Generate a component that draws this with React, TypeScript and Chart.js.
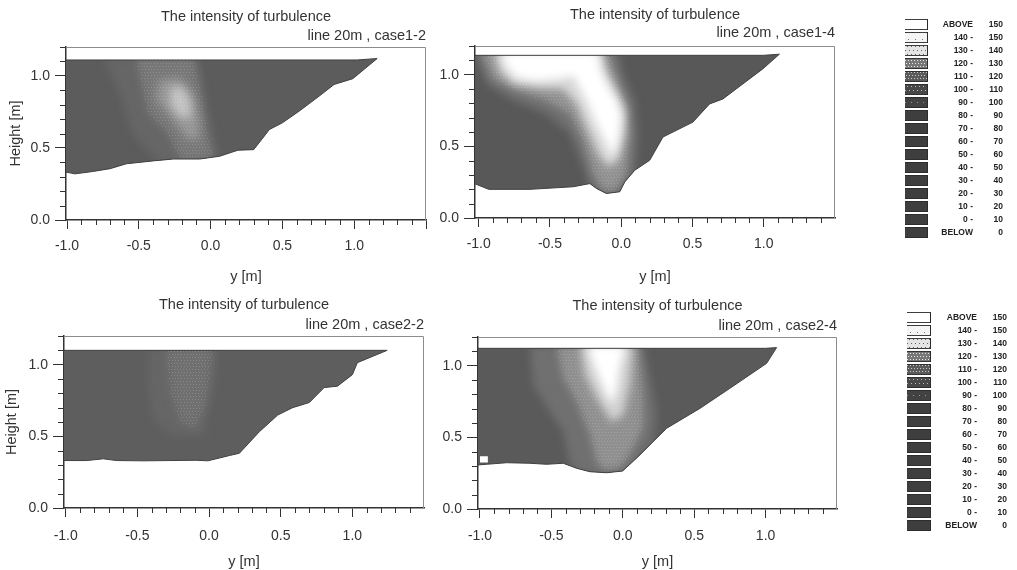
import React, { useEffect, useRef } from "react";
import { Chart, registerables } from "chart.js";

Chart.register(...registerables);

const FONT = "'Liberation Sans', Arial, sans-serif";
const INK = "#333333";

const titleText = "The intensity of turbulence";
const xAxisTitle = "y [m]";
const yAxisTitle = "Height [m]";
const xMajorTicks = [-1, -0.5, 0, 0.5, 1];
const xMinorTicks = [-0.9, -0.8, -0.7, -0.6, -0.4, -0.3, -0.2, -0.1, 0.1, 0.2, 0.3, 0.4, 0.6, 0.7, 0.8, 0.9, 1.1, 1.2, 1.3, 1.4];
const yMinorTicks = [0.1, 0.2, 0.3, 0.4, 0.6, 0.7, 0.8, 0.9, 1.1, 1.2];

// case 1-2
const bed12 = [[-1.02, 1.11], [1.02, 1.11], [1.16, 1.12], [0.99, 0.98], [0.86, 0.94], [0.757, 0.86], [0.618, 0.756], [0.5, 0.674], [0.41, 0.628], [0.3, 0.488], [0.19, 0.484], [0.0625, 0.442], [-0.076, 0.423], [-0.26, 0.423], [-0.4, 0.41], [-0.586, 0.39], [-0.7, 0.356], [-0.817, 0.337], [-0.944, 0.32], [-1.02, 0.335]];
const c12a = [[-0.75, 1.13], [-0.08, 1.13], [-0.03, 0.8], [0.06, 0.42], [-0.35, 0.39], [-0.55, 0.6], [-0.62, 0.85]];
const c12b = [[-0.52, 1.13], [-0.12, 1.13], [-0.06, 0.85], [-0.02, 0.6], [0.02, 0.43], [-0.2, 0.41], [-0.3, 0.6], [-0.44, 0.75]];
const c12c = [[-0.36, 0.97], [-0.22, 0.99], [-0.12, 0.88], [-0.08, 0.7], [-0.08, 0.55], [-0.17, 0.57], [-0.28, 0.72], [-0.38, 0.83]];
const c12d = [[-0.28, 0.91], [-0.2, 0.93], [-0.14, 0.82], [-0.14, 0.7], [-0.22, 0.72], [-0.28, 0.8]];

// case 1-4
const bed14 = [[-1.03, 1.135], [1.0, 1.135], [1.11, 1.143], [0.993, 1.04], [0.713, 0.83], [0.62, 0.796], [0.503, 0.669], [0.293, 0.565], [0.2, 0.403], [0.095, 0.333], [0.025, 0.252], [-0.01, 0.183], [-0.104, 0.171], [-0.174, 0.206], [-0.22, 0.24], [-0.337, 0.218], [-0.64, 0.2], [-0.93, 0.2], [-1.03, 0.24]];
const c14a = [[-1.03, 1.16], [-0.944, 0.935], [-0.757, 0.819], [-0.524, 0.727], [-0.36, 0.588], [-0.267, 0.356], [-0.22, 0.22], [-0.174, 0.18], [-0.104, 0.14], [-0.01, 0.16], [0.025, 0.23], [0.095, 0.31], [0.118, 0.588], [0.095, 0.819], [0.013, 1.005], [-0.022, 1.16]];
const c14b = [[-0.99, 1.16], [-0.897, 0.97], [-0.734, 0.889], [-0.524, 0.819], [-0.36, 0.727], [-0.267, 0.542], [-0.197, 0.31], [-0.127, 0.194], [-0.034, 0.194], [0.036, 0.31], [0.06, 0.588], [0.048, 0.773], [-0.034, 0.981], [-0.092, 1.16]];
const c14c = [[-0.897, 1.16], [-0.85, 1.016], [-0.757, 0.935], [-0.57, 0.907], [-0.407, 0.9], [-0.314, 0.796], [-0.244, 0.634], [-0.162, 0.449], [-0.092, 0.356], [-0.022, 0.403], [0.025, 0.588], [0.025, 0.75], [-0.034, 0.889], [-0.104, 1.028], [-0.139, 1.16]];
const c14d = [[-0.84, 1.16], [-0.809, 1.062], [-0.734, 0.981], [-0.594, 0.958], [-0.454, 0.97], [-0.337, 0.993], [-0.244, 0.819], [-0.174, 0.657], [-0.104, 0.519], [-0.057, 0.426], [-0.022, 0.542], [0.001, 0.704], [-0.034, 0.819], [-0.104, 0.935], [-0.151, 1.05], [-0.16, 1.16]];

// case 2-2
const bed22 = [[-1.02, 1.1], [1.1, 1.1], [1.243, 1.1], [1.035, 1.014], [1.0, 0.93], [0.896, 0.85], [0.803, 0.84], [0.7, 0.736], [0.583, 0.7], [0.479, 0.648], [0.351, 0.532], [0.212, 0.382], [0.143, 0.366], [-0.008, 0.329], [-0.09, 0.333], [-0.46, 0.329], [-0.645, 0.331], [-0.738, 0.343], [-0.854, 0.331], [-1.02, 0.331]];
const c22a = [[-0.42, 1.12], [0.05, 1.12], [0.05, 0.9], [0, 0.7], [-0.03, 0.5], [-0.25, 0.5], [-0.38, 0.6], [-0.42, 0.8]];
const c22b = [[-0.3, 1.12], [0.03, 1.12], [0, 0.9], [-0.03, 0.7], [-0.1, 0.55], [-0.2, 0.6], [-0.27, 0.8]];

// case 2-4
const bed24 = [[-1.02, 1.121], [1.0, 1.121], [1.077, 1.126], [1.007, 1.016], [0.75, 0.842], [0.54, 0.702], [0.307, 0.563], [0.213, 0.47], [0.12, 0.377], [-0.001, 0.265], [-0.113, 0.253], [-0.23, 0.26], [-0.323, 0.284], [-0.417, 0.319], [-0.533, 0.312], [-0.65, 0.319], [-0.813, 0.323], [-0.953, 0.312], [-1.02, 0.307]];
const c24a = [[-0.65, 1.14], [-0.627, 0.865], [-0.51, 0.679], [-0.417, 0.54], [-0.37, 0.31], [-0.323, 0.26], [-0.23, 0.23], [-0.113, 0.23], [-0.001, 0.24], [0.12, 0.35], [0.213, 0.45], [0.237, 0.679], [0.19, 0.912], [0.143, 1.14]];
const c24b = [[-0.463, 1.14], [-0.417, 0.912], [-0.323, 0.749], [-0.23, 0.516], [-0.183, 0.33], [-0.137, 0.272], [-0.02, 0.284], [0.05, 0.377], [0.143, 0.563], [0.143, 0.795], [0.108, 1.14]];
const c24c = [[-0.3, 1.14], [-0.265, 0.935], [-0.183, 0.772], [-0.078, 0.609], [0.003, 0.656], [0.05, 0.865], [0.073, 1.14]];
const c24d = [[-0.25, 1.14], [-0.195, 0.981], [-0.137, 0.842], [-0.078, 0.726], [-0.043, 0.819], [-0.02, 0.981], [0.02, 1.14]];
const gap24 = [[-1.0, 0.325], [-0.945, 0.325], [-0.945, 0.368], [-1.0, 0.368], [-1.0, 0.325]];

// legend
const legendLowLabels = ["ABOVE", "140 -", "130 -", "120 -", "110 -", "100 -", "90 -", "80 -", "70 -", "60 -", "50 -", "40 -", "30 -", "20 -", "10 -", "0 -", "BELOW"];
const legendHighLabels = ["150", "150", "140", "130", "120", "110", "100", "90", "80", "70", "60", "50", "40", "30", "20", "10", "0"];
const legendValues = [1, 1, 1, 1, 1, 1, 1, 1, 1, 1, 1, 1, 1, 1, 1, 1, 1];
const legendGreys = ["#ffffff", "#f4f4f4", "#e4e4e4", "#777777", "#5a5a5a", "#484848", "#424242", "#3e3e3e", "#3e3e3e", "#3e3e3e", "#3e3e3e", "#3e3e3e", "#3e3e3e", "#3e3e3e", "#3e3e3e", "#3e3e3e", "#3e3e3e"];
const legendDots = ["", "#777777", "#666666", "#e8e8e8", "#c8c8c8", "#bbbbbb", "#999999", "", "", "", "", "", "", "", "", "", ""];
const legendDotSpacing = [0, 7, 4, 3, 3, 4, 6, 0, 0, 0, 0, 0, 0, 0, 0, 0, 0];

const pts = (a: number[][]) => a.map(([x, y]) => ({ x, y }));

function dotPattern(base: string, dot: string, spacing: number) {
  const tile = document.createElement("canvas");
  tile.width = spacing;
  tile.height = spacing * 2;
  const g = tile.getContext("2d")!;
  if (base) {
    g.fillStyle = base;
    g.fillRect(0, 0, spacing, spacing * 2);
  }
  g.fillStyle = dot;
  g.fillRect(0, 0, 1, 1);
  g.fillRect(Math.floor(spacing / 2), spacing, 1, 1);
  return g.createPattern(tile, "repeat")!;
}

const BLUR = "blur(4px)";

const softPlugin = {
  id: "soften",
  beforeDatasetDraw(chart: any, args: any) {
    const { ctx } = chart;
    const sets = chart.data.datasets;
    if (args.index === 0) {
      const sx = chart.scales.x;
      const sy = chart.scales.y;
      ctx.save();
      ctx.beginPath();
      sets[0].data.forEach((p: any, i: number) => {
        const px = sx.getPixelForValue(p.x);
        const py = sy.getPixelForValue(p.y);
        if (i === 0) ctx.moveTo(px, py);
        else ctx.lineTo(px, py);
      });
      ctx.closePath();
      ctx.clip();
    }
    const cur = sets[args.index];
    const next = sets[args.index + 1];
    if (cur.role !== "sharp") {
      if (next && next.role === "sharp") ctx.restore();
      else if (next) ctx.filter = next.role === "grain" ? "none" : BLUR;
    }
  },
};

const framePlugin = {
  id: "frame",
  afterDraw(chart: any) {
    const { ctx, chartArea: a } = chart;
    const sx = chart.scales.x;
    const sy = chart.scales.y;
    ctx.save();
    ctx.strokeStyle = "#8c8c8c";
    ctx.lineWidth = 1;
    ctx.beginPath();
    ctx.moveTo(a.left, a.top + 0.5);
    ctx.lineTo(a.right - 0.5, a.top + 0.5);
    ctx.lineTo(a.right - 0.5, a.bottom);
    ctx.stroke();
    ctx.strokeStyle = INK;
    ctx.beginPath();
    xMinorTicks.forEach((v) => {
      const p = Math.round(sx.getPixelForValue(v)) + 0.5;
      ctx.moveTo(p, a.bottom);
      ctx.lineTo(p, a.bottom + 5);
    });
    yMinorTicks.forEach((v) => {
      const p = Math.round(sy.getPixelForValue(v)) + 0.5;
      ctx.moveTo(a.left, p);
      ctx.lineTo(a.left - 6, p);
    });
    ctx.stroke();
    ctx.restore();
  },
};

type Panel = {
  left: number; top: number; width: number; height: number;
  axisLeft: number; padRight: number; xAxisHeight: number; xMin: number;
  titleTop: number; subGap: number; subBottom: number;
  tickPad: number; xTitlePad: number; yTitlePad: number | null;
  subtitle: string; edgeTick: boolean;
  bed: number[][]; layers: [number[][], string][]; base: string; grain: number[][]; hole?: number[][];
};

const panels: Panel[] = [
  { left: 0, top: 0, width: 440, height: 285, axisLeft: 66, padRight: 14, xAxisHeight: 65, xMin: -1.007, titleTop: 9, subGap: 3, subBottom: 3, tickPad: 9, xTitlePad: 4, yTitlePad: 8, subtitle: "line 20m , case1-2", edgeTick: true, bed: bed12, base: "#5c5c5c", grain: c12b, layers: [[c12a, "#666666"], [c12b, "#787878"], [c12c, "#969696"], [c12d, "#c4c4c4"]] },
  { left: 430, top: 0, width: 420, height: 285, axisLeft: 45, padRight: 15, xAxisHeight: 67, xMin: -1.026, titleTop: 7, subGap: 2, subBottom: 5, tickPad: 9, xTitlePad: 7, yTitlePad: null, subtitle: "line 20m , case1-4", edgeTick: false, bed: bed14, base: "#585858", grain: c14b, layers: [[c14a, "#707070"], [c14b, "#929292"], [c14c, "#d8d8d8"], [c14d, "#ffffff"]] },
  { left: 0, top: 285, width: 440, height: 285, axisLeft: 64, padRight: 16, xAxisHeight: 62, xMin: -1.012, titleTop: 12, subGap: 4, subBottom: 3, tickPad: 11, xTitlePad: 1, yTitlePad: 4, subtitle: "line 20m , case2-2", edgeTick: false, bed: bed22, base: "#5e5e5e", grain: c22b, layers: [[c22a, "#666666"], [c22b, "#707070"]] },
  { left: 430, top: 285, width: 420, height: 285, axisLeft: 48, padRight: 13, xAxisHeight: 61, xMin: -1.014, titleTop: 13, subGap: 4, subBottom: 3, tickPad: 10, xTitlePad: 0, yTitlePad: null, subtitle: "line 20m , case2-4", edgeTick: false, bed: bed24, base: "#5a5a5a", hole: gap24, grain: c24b, layers: [[c24a, "#707070"], [c24b, "#909090"], [c24c, "#d0d0d0"], [c24d, "#ffffff"]] },
];

type LegendSpec = { left: number; top: number; swatch: number; lowWidth: number; highWidth: number };
const legends: LegendSpec[] = [
  { left: 905, top: 18, swatch: 23, lowWidth: 45, highWidth: 30 },
  { left: 907, top: 311, swatch: 24, lowWidth: 46, highWidth: 30 },
];

function makePanel(canvas: HTMLCanvasElement, p: Panel) {
  const layerSets = p.layers.map(([poly, color]) => ({
    role: "soft",
    data: pts(poly),
    backgroundColor: color,
    borderWidth: 0,
    pointRadius: 0,
    fill: "shape",
  }));
  const grainSet = {
    role: "grain",
    data: pts(p.grain),
    backgroundColor: dotPattern("", "rgba(255,255,255,0.16)", 3),
    borderWidth: 0,
    pointRadius: 0,
    fill: "shape",
  };
  const sharp: any[] = [];
  if (p.hole) {
    sharp.push({ role: "sharp", data: pts(p.hole), backgroundColor: "#ffffff", borderWidth: 0, pointRadius: 0, fill: "shape" });
  }
  sharp.push({
    role: "sharp",
    data: pts([...p.bed, p.bed[0]]),
    borderColor: "#404040",
    borderWidth: 1,
    pointRadius: 0,
    fill: false,
  });
  const all: any[] = [
    { role: "base", data: pts(p.bed), backgroundColor: p.base, borderWidth: 0, pointRadius: 0, fill: "shape" },
    ...layerSets,
    grainSet,
    ...sharp,
  ].map((d, i) => ({ ...d, order: -i }));
  const tickVals = p.edgeTick ? [...xMajorTicks, 1.5] : xMajorTicks;
  return new Chart(canvas, {
    type: "line",
    data: { datasets: all },
    plugins: [softPlugin, framePlugin],
    options: {
      animation: false,
      responsive: false,
      layout: { autoPadding: false, padding: { right: p.padRight, left: 0, top: 0, bottom: 0 } },
      plugins: {
        legend: { display: false },
        tooltip: { enabled: false },
        title: {
          display: true,
          text: titleText,
          fullSize: false,
          color: INK,
          font: { family: FONT, size: 14.5, weight: "normal", lineHeight: "16px" },
          padding: { top: p.titleTop, bottom: 0 },
        },
        subtitle: {
          display: true,
          text: p.subtitle,
          align: "end",
          fullSize: false,
          color: INK,
          font: { family: FONT, size: 14.5, weight: "normal", lineHeight: "16px" },
          padding: { top: p.subGap, bottom: p.subBottom },
        },
      },
      scales: {
        x: {
          type: "linear",
          min: p.xMin,
          max: 1.5,
          afterBuildTicks: (s: any) => { s.ticks = tickVals.map((value) => ({ value })); },
          afterFit: (s: any) => { s.height = p.xAxisHeight; },
          ticks: {
            autoSkip: false,
            maxRotation: 0,
            padding: p.tickPad,
            color: INK,
            font: { family: FONT, size: 14 },
            callback: (v: any) => (v > 1.2 ? "" : Number(v).toFixed(1)),
          },
          grid: { drawOnChartArea: false, tickLength: 9, tickColor: INK, tickWidth: 1 },
          border: { color: INK, width: 1.5 },
          title: {
            display: true,
            text: xAxisTitle,
            color: INK,
            font: { family: FONT, size: 14.5, lineHeight: "16px" },
            padding: { top: p.xTitlePad, bottom: 0 },
          },
        },
        y: {
          type: "linear",
          min: 0,
          max: 1.2,
          afterBuildTicks: (s: any) => { s.ticks = [0, 0.5, 1].map((value) => ({ value })); },
          afterFit: (s: any) => { s.width = p.axisLeft; },
          ticks: {
            padding: 5,
            color: INK,
            font: { family: FONT, size: 14 },
            callback: (v: any) => Number(v).toFixed(1),
          },
          grid: { drawOnChartArea: false, tickLength: 11, tickColor: INK, tickWidth: 1 },
          border: { color: INK, width: 1.5 },
          title: {
            display: p.yTitlePad !== null,
            text: yAxisTitle,
            color: INK,
            font: { family: FONT, size: 14.5, lineHeight: "16px" },
            padding: { top: p.yTitlePad ?? 0, bottom: 0 },
          },
        },
      },
    } as any,
  });
}

function makeLegend(canvas: HTMLCanvasElement, l: LegendSpec) {
  const font = { family: FONT, size: 8.5, weight: "bold" };
  const fills = legendGreys.map((g, i) => (legendDots[i] ? dotPattern(g, legendDots[i], legendDotSpacing[i]) : g));
  return new Chart(canvas, {
    type: "bar",
    data: {
      labels: legendLowLabels,
      datasets: [{
        data: legendValues,
        backgroundColor: fills,
        borderColor: "#2c2c2c",
        borderWidth: 1,
        barPercentage: 1,
        categoryPercentage: 0.86,
      }],
    },
    options: {
      animation: false,
      responsive: false,
      indexAxis: "y",
      layout: { autoPadding: false, padding: { right: 1017 - l.left - l.swatch - l.lowWidth - l.highWidth } },
      plugins: { legend: { display: false }, tooltip: { enabled: false } },
      scales: {
        x: { display: false, min: 0, max: 1 },
        y: {
          position: "right",
          afterFit: (s: any) => { s.width = l.lowWidth; s.paddingTop = 0; s.paddingBottom = 0; },
          grid: { display: false },
          border: { display: false },
          ticks: { autoSkip: false, crossAlign: "far", padding: 0, color: "#222", font },
        },
        y2: {
          type: "category",
          position: "right",
          labels: legendHighLabels,
          afterFit: (s: any) => { s.width = l.highWidth; s.paddingTop = 0; s.paddingBottom = 0; },
          grid: { display: false },
          border: { display: false },
          ticks: { autoSkip: false, crossAlign: "far", padding: 0, color: "#222", font },
        },
      },
    } as any,
  });
}

const canvasStyle = (left: number, top: number): React.CSSProperties => ({
  position: "absolute",
  left,
  top,
  filter: "blur(0.5px)",
});

export default function App() {
  const panelRefs = useRef<(HTMLCanvasElement | null)[]>([]);
  const legendRefs = useRef<(HTMLCanvasElement | null)[]>([]);
  useEffect(() => {
    const charts = [
      ...panels.map((p, i) => makePanel(panelRefs.current[i]!, p)),
      ...legends.map((l, i) => makeLegend(legendRefs.current[i]!, l)),
    ];
    return () => charts.forEach((c) => c.destroy());
  }, []);
  return (
    <div>
      {panels.map((p, i) => (
        <canvas
          key={p.subtitle}
          ref={(el) => { panelRefs.current[i] = el; }}
          width={p.width}
          height={p.height}
          style={canvasStyle(p.left, p.top)}
        />
      ))}
      {legends.map((l, i) => (
        <canvas
          key={l.left}
          ref={(el) => { legendRefs.current[i] = el; }}
          width={1017 - l.left}
          height={221}
          style={canvasStyle(l.left, l.top)}
        />
      ))}
    </div>
  );
}
